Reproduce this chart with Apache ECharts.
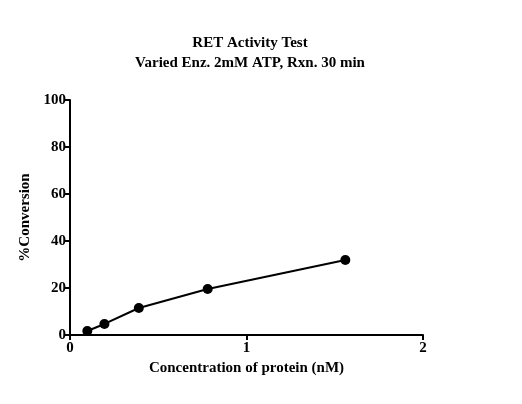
<!DOCTYPE html>
<html><head><meta charset="utf-8">
<script src="https://cdn.jsdelivr.net/npm/echarts@6/dist/echarts.min.js"></script>
<style>html,body{margin:0;padding:0;background:#fff}#c{width:522px;height:404px}</style>
</head><body><div id="c"></div>
<script>
const xValues = [0.098, 0.195, 0.39, 0.78, 1.56];
const yValues = [1.7, 4.7, 11.5, 19.6, 31.9];
const titleLines = ['RET Activity Test', 'Varied Enz. 2mM ATP, Rxn. 30 min'];
const xName = 'Concentration of protein (nM)';
const yName = '%Conversion';
const font = 'Liberation Serif';
const chart = echarts.init(document.getElementById('c'));
chart.setOption({
  animation: false,
  title: { text: titleLines.join('\n'), left: 245, top: 28, textAlign: 'center',
    textStyle: { fontFamily: font, fontWeight: 'bold', fontSize: 15, lineHeight: 20, color: '#000' } },
  grid: { left: 70, right: 99, top: 100, bottom: 69 },
  xAxis: { type: 'value', min: 0, max: 2, interval: 1, name: xName, nameLocation: 'middle', nameGap: 26,
    nameTextStyle: { fontFamily: font, fontWeight: 'bold', fontSize: 15, color: '#000' },
    axisLine: { lineStyle: { color: '#000', width: 2 } },
    axisTick: { show: true, length: 5, lineStyle: { color: '#000', width: 2 } },
    axisLabel: { fontFamily: font, fontWeight: 'bold', fontSize: 15, color: '#000', margin: 6 },
    splitLine: { show: false } },
  yAxis: { type: 'value', min: 0, max: 100, interval: 20, name: yName, nameLocation: 'middle', nameGap: 36,
    nameTextStyle: { fontFamily: font, fontWeight: 'bold', fontSize: 15, color: '#000' },
    axisLine: { show: true, lineStyle: { color: '#000', width: 2 } },
    axisTick: { show: true, length: 5, lineStyle: { color: '#000', width: 2 } },
    axisLabel: { fontFamily: font, fontWeight: 'bold', fontSize: 15, color: '#000', margin: 4 },
    splitLine: { show: false } },
  series: [{ type: 'line', data: xValues.map((x, i) => [x, yValues[i]]),
    symbol: 'circle', symbolSize: 10, itemStyle: { color: '#000' },
    lineStyle: { color: '#000', width: 2 } }]
});
</script></body></html>
